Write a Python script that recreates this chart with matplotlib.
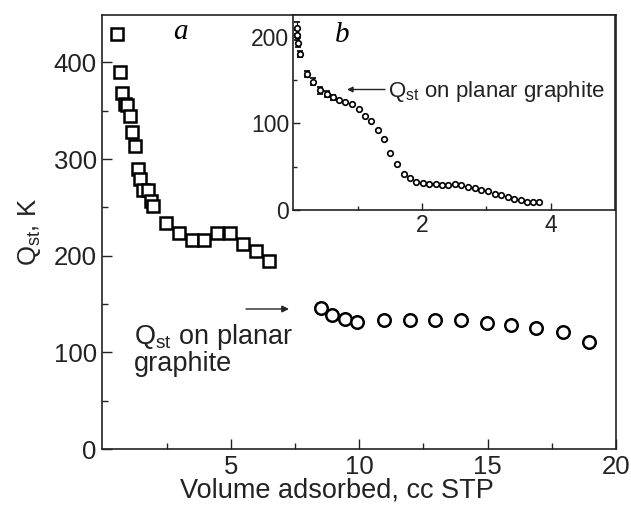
import matplotlib
matplotlib.use("Agg")
import matplotlib.pyplot as plt
from matplotlib.ticker import MultipleLocator, FixedLocator

plt.rcParams['font.family'] = ['Liberation Sans', 'DejaVu Sans']
plt.rcParams['mathtext.fontset'] = 'custom'
plt.rcParams['mathtext.rm'] = 'Liberation Sans'
plt.rcParams['mathtext.it'] = 'Liberation Serif:italic'

# Main panel (a): squares
sq_x = [0.58, 0.69, 0.78, 0.88, 0.97, 1.08, 1.17, 1.27, 1.40, 1.47, 1.57, 1.79, 1.88, 1.96,
        2.47, 2.98, 3.48, 3.97, 4.47, 4.97, 5.49, 5.97, 6.49]
sq_y = [429, 390, 368, 357, 356, 345, 328, 313, 290, 279, 268, 268, 257, 251,
        234, 223, 216, 216, 223, 223, 212, 205, 195]
# Main panel (a): circles (planar graphite)
ci_x = [8.50, 8.93, 9.44, 9.92, 10.96, 11.97, 12.95, 13.95, 14.96, 15.93, 16.90, 17.94, 18.95]
ci_y = [145.6, 139, 134, 131, 133.5, 133.5, 133.5, 133.5, 130, 128, 125, 121, 111]

# Inset (b)
b_x = [0.06, 0.06, 0.07, 0.11, 0.22, 0.31, 0.41, 0.52, 0.61, 0.71, 0.81, 0.92, 1.02, 1.11,
       1.21, 1.31, 1.41, 1.51, 1.61, 1.72, 1.81, 1.91, 2.01, 2.11, 2.22, 2.31, 2.41, 2.51,
       2.61, 2.72, 2.82, 2.92, 3.02, 3.13, 3.23, 3.33, 3.43, 3.54, 3.63, 3.73, 3.82]
b_y = [209.6, 201.8, 193, 180, 157, 148, 138, 134, 130, 127, 125, 122, 117, 109,
       103, 92, 82, 66, 53, 42, 36.5, 32.7, 31.5, 30, 29.6, 29, 29, 29.5,
       29, 27, 25, 23.5, 21.5, 19, 17, 15, 13, 11, 9.5, 9, 9.5]
b_err = [7, 6, 5, 4, 3, 4, 4, 3.5, 3] + [0] * 32

W, H = 631, 511
fig = plt.figure(figsize=(W/100, H/100), dpi=100)
ax = fig.add_axes([102.3/W, 1 - 449/H, (616 - 102.3)/W, (449 - 15)/H])

ax.plot(sq_x, sq_y, 's', ms=8.7, mfc='white', mec='black', mew=1.8, zorder=3)
ax.plot(ci_x, ci_y, 'o', ms=9, mfc='white', mec='black', mew=1.8, zorder=3)

ax.set_xlim(0, 20)
ax.set_ylim(0, 449)
ax.xaxis.set_major_locator(FixedLocator([5, 10, 15, 20]))
ax.xaxis.set_minor_locator(FixedLocator([2.5, 7.5, 12.5, 17.5]))
ax.yaxis.set_major_locator(MultipleLocator(100))
ax.yaxis.set_minor_locator(MultipleLocator(50))
ax.tick_params(which='both', direction='in', labelsize=18.5, width=1.0, colors='#222222')
ax.tick_params(which='major', length=7, pad=4)
ax.tick_params(which='minor', length=4)
for s in ax.spines.values():
    s.set_linewidth(1.2)
    s.set_color('#222222')
ax.set_ylabel(r'$\mathregular{Q_{st}}$, K', fontsize=18.5, color='#222222', labelpad=8)
fig.text(337/W, 1 - 497/H, 'Volume adsorbed, cc STP', fontsize=19.5, color='#222222',
         ha='center', va='baseline')

fig.text(180/W, 1 - 32/H, 'a', fontsize=21, style='italic',
         family='Liberation Serif', ha='center', va='center')
fig.text(134/W, 1 - 344/H, r'$\mathregular{Q_{st}}$ on planar', fontsize=19.5,
         color='#222222', ha='left', va='baseline')
fig.text(134/W, 1 - 371/H, 'graphite', fontsize=19.5, color='#222222',
         ha='left', va='baseline')
ax.annotate('', xy=(289/W, 1 - 309/H), xytext=(246/W, 1 - 309/H),
            xycoords='figure fraction', textcoords='figure fraction',
            arrowprops=dict(arrowstyle='-|>', color='#222222', lw=1.0,
                            mutation_scale=10, shrinkA=0, shrinkB=0))

# Inset
axb = fig.add_axes([293.3/W, 1 - 210/H, (615 - 293.3)/W, (210 - 15)/H])
axb.errorbar(b_x, b_y, yerr=b_err, fmt='o', ms=4, mfc='white', mec='black', mew=1.2,
             ecolor='black', elinewidth=0.8, capsize=2, capthick=0.8, zorder=3)
axb.set_xlim(0, 5)
axb.set_ylim(0, 225)
axb.xaxis.set_major_locator(FixedLocator([2, 4]))
axb.xaxis.set_minor_locator(FixedLocator([1, 3]))
axb.yaxis.set_major_locator(FixedLocator([0, 100, 200]))
axb.yaxis.set_minor_locator(FixedLocator([50, 150]))
axb.tick_params(which='both', direction='in', labelsize=16.5, width=1.0, colors='#222222')
axb.tick_params(which='major', length=5, pad=3)
axb.tick_params(which='minor', length=3)
for s in axb.spines.values():
    s.set_linewidth(1.2)
    s.set_color('#222222')
fig.text(342/W, 1 - 35/H, 'b', fontsize=21, style='italic',
         family='Liberation Serif', ha='center', va='center')
fig.text(388/W, 1 - 92/H, r'$\mathregular{Q_{st}}$ on planar graphite', fontsize=16,
         color='#222222', ha='left', va='center')
axb.annotate('', xy=(347/W, 1 - 89.5/H), xytext=(385/W, 1 - 89.5/H),
             xycoords='figure fraction', textcoords='figure fraction',
             arrowprops=dict(arrowstyle='-|>', color='#222222', lw=1.0,
                             mutation_scale=8, shrinkA=0, shrinkB=0))

fig.savefig('out.png', dpi=100)
